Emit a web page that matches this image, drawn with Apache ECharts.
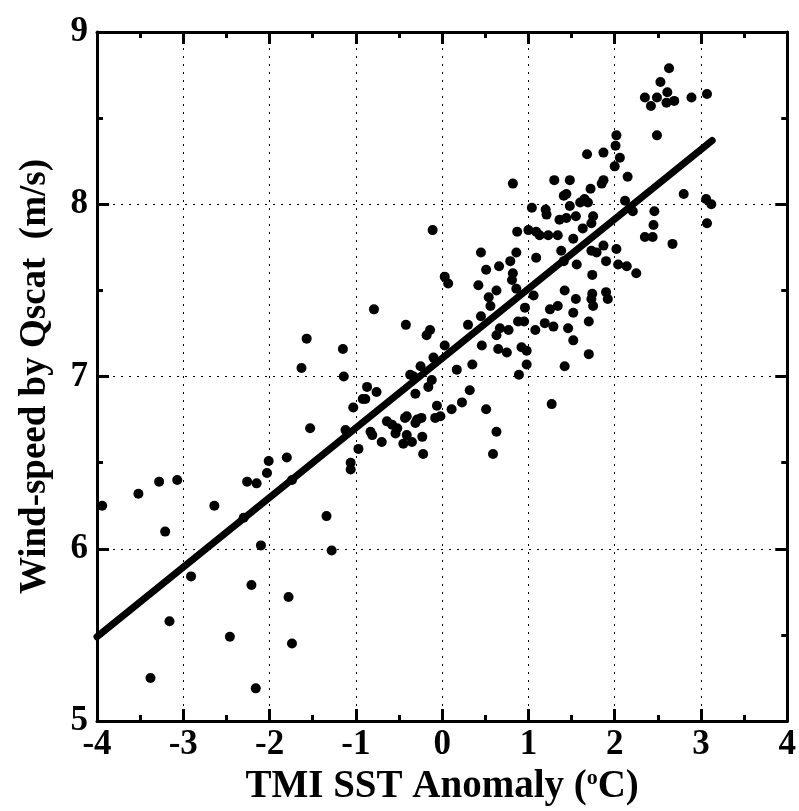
<!DOCTYPE html>
<html>
<head>
<meta charset="utf-8">
<script src="https://cdn.jsdelivr.net/npm/echarts@6/dist/echarts.min.js"></script>
<style>html,body{margin:0;padding:0;background:#fff}#c{width:799px;height:811px}</style>
</head>
<body>
<div id="c"></div>
<script>
// Tick values
const xTicks = [-4, -3, -2, -1, 0, 1, 2, 3, 4];
const yTicks = [5, 6, 7, 8, 9];

// Scatter points [SST anomaly (°C), wind speed (m/s)]
const coldPoints = [
  [-3.94,6.25],[-3.52,6.32],[-3.28,6.39],[-3.07,6.40],[-3.21,6.10],[-2.64,6.25],[-2.30,6.18],
  [-2.26,6.39],[-2.15,6.38],[-2.01,6.51],[-2.03,6.44],[-1.80,6.53],[-1.74,6.40],[-2.10,6.02],
  [-1.34,6.19],[-1.28,5.99],[-2.91,5.84],[-2.21,5.79],[-1.78,5.72],[-3.16,5.58],[-2.46,5.49],
  [-1.74,5.45],[-3.38,5.25],[-2.16,5.19],[-1.57,7.22],[-1.63,7.05],[-1.53,6.70],[-1.15,7.16],
  [-1.14,7.00],[-1.12,6.69],[-1.06,6.50],[-1.06,6.46],[-1.03,6.82]
];
const midPoints = [
  [-0.97,6.58],[-0.92,6.87],[-0.89,6.87],[-0.87,6.94],[-0.76,6.91],[-0.83,6.68],[-0.81,6.66],
  [-0.70,6.62],[-0.64,6.74],[-0.58,6.72],[-0.52,6.70],[-0.54,6.67],[-0.79,7.39],[-0.42,7.30],
  [-0.45,6.61],[-0.41,6.77],[-0.41,6.66],[-0.35,6.62],[-0.31,6.73],[-0.29,6.75],[-0.24,6.76],
  [-0.23,6.65],[-0.22,6.55],[-0.43,6.76],[-0.37,7.01],[-0.33,7.00],[-0.25,7.06],[-0.31,6.90],
  [-0.16,6.94],[-0.18,7.24],[-0.14,7.27],[-0.11,7.85],[-0.12,6.98],[-0.10,7.11],[-0.06,6.83],
  [-0.08,6.76],[-0.02,6.77],[0.03,7.18],[0.03,7.58],[0.07,7.54],[0.11,6.81],[0.17,7.04],
  [0.23,6.85],[0.35,7.07],[0.32,6.92],[0.30,7.30],[0.42,7.53],[0.45,7.35],[0.46,7.18],
  [0.45,7.72],[0.51,7.62],[0.54,7.46],[0.56,7.41],[0.51,6.81],[0.63,6.68],[0.59,6.55],
  [0.63,7.50],[0.66,7.64],[0.65,7.16],[0.63,7.24],[0.67,7.28],[0.75,7.14],[0.77,7.27],
  [0.79,7.67],[0.82,7.60],[0.81,7.56],[0.82,8.12],[0.86,7.72],[0.87,7.84],[0.86,7.51],
  [0.88,7.32],[0.89,7.01],[0.92,7.17],[0.95,7.32],[0.96,7.40],[0.98,7.15],[0.98,7.07]
];
const warmPoints = [
  [1.00,7.85],[1.04,7.98],[1.06,7.47],[1.08,7.27],[1.09,7.84],[1.09,7.69],[1.13,7.82],
  [1.19,7.31],[1.20,7.97],[1.21,7.94],[1.23,7.82],[1.25,7.39],[1.27,6.84],[1.29,7.29],
  [1.30,8.14],[1.34,7.82],[1.34,7.41],[1.36,7.91],[1.38,7.73],[1.41,8.05],[1.44,8.06],
  [1.41,7.67],[1.42,7.50],[1.42,7.06],[1.44,7.92],[1.46,7.28],[1.48,8.14],[1.48,7.99],
  [1.52,7.80],[1.52,7.37],[1.52,7.21],[1.55,7.93],[1.55,7.45],[1.56,7.65],[1.60,8.01],
  [1.63,7.86],[1.65,8.03],[1.68,8.29],[1.69,8.01],[1.70,7.32],[1.70,7.13],[1.72,8.09],
  [1.73,7.89],[1.73,7.73],[1.74,7.59],[1.74,7.48],[1.73,7.45],[1.75,7.93],[1.75,7.41],
  [1.79,7.72],[1.85,8.12],[1.87,8.14],[1.87,8.30],[1.87,7.76],[1.90,7.67],[1.90,7.49],
  [1.92,7.45],[2.00,8.22],[2.01,8.34],[2.02,8.40],[2.02,7.74],[2.04,7.65],[2.06,8.27],
  [2.12,8.02],[2.14,7.64],[2.15,8.16],[2.21,7.96],[2.25,7.60],[2.35,8.62],[2.35,7.81],
  [2.42,8.57],[2.44,7.81],[2.45,7.88],[2.46,7.96],[2.49,8.62],[2.49,8.40],[2.53,8.71],
  [2.60,8.59],[2.61,8.65],[2.63,8.79],[2.67,7.77],[2.69,8.60],[2.80,8.06],[2.89,8.62],
  [3.06,8.03],[3.07,8.64],[3.07,7.89],[3.12,8.00]
];

// Regression line end points
const fitX = [-4.0, 3.13];
const fitY = [5.49, 8.37];

const allPoints = coldPoints.concat(midPoints, warmPoints);
const fitLine = fitX.map((x, i) => [x, fitY[i]]);

const serif = '"Liberation Serif", "DejaVu Serif", serif';
const labelStyle = { fontFamily: serif, fontWeight: 'bold', fontSize: 35, color: '#000' };
const frameLine = { show: true, onZero: false, lineStyle: { color: '#000', width: 3 } };
const tickStyle = { show: true, inside: true, length: 12, lineStyle: { color: '#000', width: 3 } };
const minorStyle = { show: true, splitNumber: 2, length: 6, lineStyle: { color: '#000', width: 3 } };
const gridDots = { show: true, lineStyle: { color: '#000', width: 1, type: [2, 6] } };

const chart = echarts.init(document.getElementById('c'), null, { renderer: 'canvas' });
chart.setOption({
  animation: false,
  backgroundColor: '#fff',
  grid: { left: 97, right: 11, top: 32, bottom: 86, containLabel: false },
  xAxis: [
    {
      type: 'value', min: xTicks[0], max: xTicks[xTicks.length - 1], interval: 1,
      position: 'bottom',
      axisLine: frameLine, axisTick: tickStyle, minorTick: minorStyle, splitLine: gridDots,
      axisLabel: Object.assign({ margin: 6, formatter: v => String(v) }, labelStyle),
      name: 'TMI SST Anomaly ({sup|o}C)', nameLocation: 'middle', nameGap: 44,
      nameTextStyle: {
        fontFamily: serif, fontWeight: 'bold', fontSize: 39, color: '#000',
        rich: { sup: { fontFamily: serif, fontWeight: 'bold', fontSize: 22, color: '#000', verticalAlign: 'top', lineHeight: 22 } }
      }
    },
    {
      type: 'value', min: xTicks[0], max: xTicks[xTicks.length - 1], interval: 1,
      position: 'top',
      axisLine: frameLine, axisTick: tickStyle, minorTick: minorStyle,
      splitLine: { show: false }, axisLabel: { show: false }
    }
  ],
  yAxis: [
    {
      type: 'value', min: yTicks[0], max: yTicks[yTicks.length - 1], interval: 1,
      position: 'left',
      axisLine: frameLine, axisTick: tickStyle, minorTick: minorStyle, splitLine: gridDots,
      axisLabel: Object.assign({ margin: 9 }, labelStyle),
      name: 'Wind-speed by Qscat  (m/s)', nameLocation: 'middle', nameGap: 43,
      nameTextStyle: { fontFamily: serif, fontWeight: 'bold', fontSize: 37, color: '#000' }
    },
    {
      type: 'value', min: yTicks[0], max: yTicks[yTicks.length - 1], interval: 1,
      position: 'right',
      axisLine: frameLine, axisTick: tickStyle, minorTick: minorStyle,
      splitLine: { show: false }, axisLabel: { show: false }
    }
  ],
  series: [
    {
      type: 'scatter', xAxisIndex: 0, yAxisIndex: 0, data: allPoints,
      symbol: 'circle', symbolSize: 10, itemStyle: { color: '#000', opacity: 1 }, z: 3
    },
    {
      type: 'line', xAxisIndex: 0, yAxisIndex: 0, data: fitLine,
      symbol: 'none', lineStyle: { color: '#000', width: 7, cap: 'round' }, z: 4
    }
  ]
});
</script>
</body>
</html>
